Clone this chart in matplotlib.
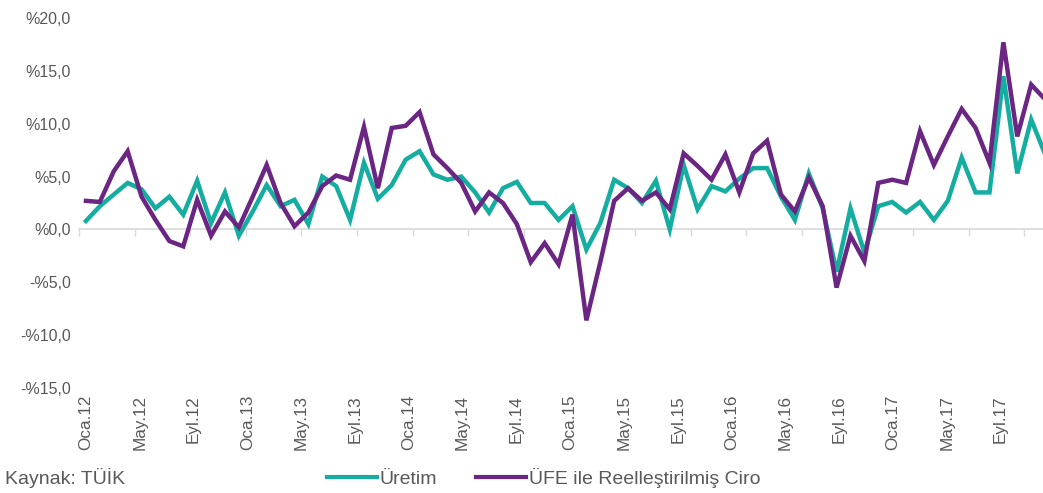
import numpy as np
import matplotlib
matplotlib.use('Agg')
import matplotlib.pyplot as plt
from matplotlib.lines import Line2D

# Aylar: Oca.12 -> Eki.17 (aylık)
aylar = ['Oca', 'Şub', 'Mar', 'Nis', 'May', 'Haz', 'Tem', 'Ağu', 'Eyl', 'Eki', 'Kas', 'Ara']
donem = [a + '.' + str(y) for y in range(12, 18) for a in aylar][:70]

uretim = [0.8, 2.2, 3.3, 4.4, 3.8, 2.0, 3.1, 1.4, 4.6, 0.6, 3.5, -0.6,
          1.7, 4.2, 2.2, 2.8, 0.5, 5.0, 4.1, 0.9, 6.3, 2.9, 4.2, 6.6,
          7.4, 5.2, 4.7, 5.0, 3.5, 1.6, 3.9, 4.5, 2.5, 2.5, 0.9, 2.2,
          -1.9, 0.6, 4.7, 3.9, 2.5, 4.6, 0.0, 6.1, 1.9, 4.1, 3.6, 4.8,
          5.8, 5.8, 3.1, 0.9, 5.3, 2.0, -4.0, 2.0, -2.2, 2.2, 2.6, 1.6,
          2.6, 0.9, 2.7, 6.8, 3.5, 3.5, 14.5, 5.3, 10.4, 7.1]

ciro = [2.7, 2.6, 5.5, 7.4, 3.1, 0.9, -1.1, -1.6, 2.8, -0.6, 1.7, 0.2,
        3.1, 6.1, 2.5, 0.3, 1.6, 4.1, 5.1, 4.7, 9.7, 3.9, 9.6, 9.8,
        11.1, 7.1, 5.8, 4.4, 1.7, 3.5, 2.5, 0.5, -3.1, -1.3, -3.3, 1.4,
        -8.6, -3.1, 2.7, 3.9, 2.7, 3.5, 1.9, 7.2, 6.0, 4.7, 7.1, 3.5,
        7.2, 8.4, 3.3, 1.7, 4.9, 2.2, -5.5, -0.6, -3.0, 4.4, 4.7, 4.4,
        9.3, 6.1, 8.8, 11.4, 9.6, 6.3, 17.7, 8.8, 13.7, 12.3]

etiketler = ['Oca.12', 'May.12', 'Eyl.12', 'Oca.13', 'May.13', 'Eyl.13',
             'Oca.14', 'May.14', 'Eyl.14', 'Oca.15', 'May.15', 'Eyl.15',
             'Oca.16', 'May.16', 'Eyl.16', 'Oca.17', 'May.17', 'Eyl.17']
y_ticks = [-15, -10, -5, 0, 5, 10, 15, 20]

teal = '#14ada0'
mor = '#6b2583'
gri = '#595959'

plt.rcParams['font.family'] = ['Liberation Sans', 'DejaVu Sans']

fig = plt.figure(figsize=(10.43, 4.93), dpi=100)
ax = fig.add_axes([79 / 1043, 1 - 388 / 493, 1 - 79 / 1043, (388 - 18) / 493])

x = np.arange(len(donem))
ax.plot(x, uretim, color=teal, lw=3.2, solid_joinstyle='miter')
ax.plot(x, ciro, color=mor, lw=3.2, solid_joinstyle='miter')

ax.set_xlim(-0.5, 68.85)
ax.set_ylim(-15, 20)

for s in ax.spines.values():
    s.set_visible(False)

# y ekseni
ax.set_yticks(y_ticks)
ax.set_yticklabels([('-' if v < 0 else '') + '%' + f'{abs(v):.1f}'.replace('.', ',') for v in y_ticks])
ax.tick_params(axis='y', length=0, pad=6, labelsize=11.5, labelcolor=gri)

# x ekseni etiketleri (altta, dikey)
ax.set_xticks(np.arange(len(etiketler)) * 3.87)
ax.set_xticklabels(etiketler, rotation=90)
ax.tick_params(axis='x', length=0, pad=5, labelsize=12.3, labelcolor=gri)

# sıfır çizgisi ve kategori ayraçları
sec = ax.secondary_xaxis(15 / 35)
sec.set_xticks(np.arange(-0.5, 70, 4))
sec.set_xticklabels([])
sec.tick_params(axis='x', direction='out', length=5, color='#d9d9d9', width=1)
sec.spines['bottom'].set_color('#d9d9d9')
sec.spines['bottom'].set_linewidth(1.2)
ax.set_zorder(2)
ax.patch.set_visible(False)

# lejant ve kaynak
handles = [Line2D([], [], color=teal, lw=3), Line2D([], [], color=mor, lw=3)]
fig.legend(handles, ['Üretim', 'ÜFE ile Reelleştirilmiş Ciro'], loc='center',
           bbox_to_anchor=(0.521, 0.031), ncol=2, frameon=False, fontsize=14,
           handlelength=2.57, handletextpad=0.15, columnspacing=2.0, labelcolor=gri)
fig.text(5 / 1043, 0.031, 'Kaynak: TÜİK', fontsize=14, color=gri, va='center', ha='left')

fig.savefig('out.png', dpi=100)
